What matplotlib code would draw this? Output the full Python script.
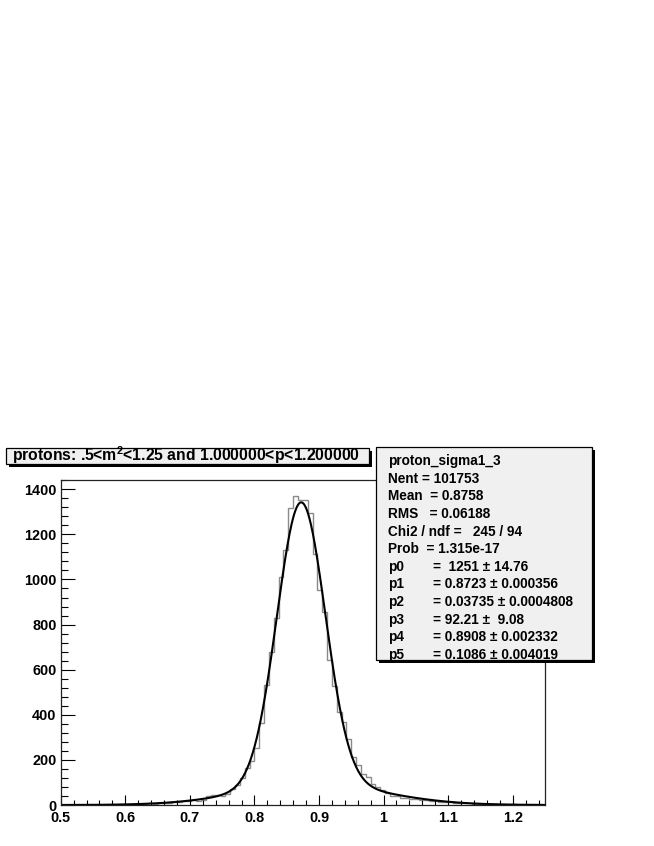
import numpy as np
import matplotlib
matplotlib.use("Agg")
import matplotlib.pyplot as plt
from matplotlib.patches import Rectangle
from matplotlib.ticker import MultipleLocator, FuncFormatter

plt.rcParams['font.family'] = ['Liberation Sans', 'DejaVu Sans']
plt.rcParams['font.weight'] = 'bold'
plt.rcParams['mathtext.fontset'] = 'custom'
plt.rcParams['mathtext.rm'] = 'Liberation Sans:bold'
plt.rcParams['mathtext.bf'] = 'Liberation Sans:bold'
plt.rcParams['mathtext.it'] = 'Liberation Sans:bold'

# Histogram: 100 bins between 0.5 and 1.25 (bin width 0.0075)
x_low, x_high = 0.5, 1.25
counts = [
    0, 0, 1, 0, 1, 0, 1, 1, 2, 1,
    2, 2, 3, 2, 4, 4, 5, 5, 7, 6,
    9, 9, 11, 12, 15, 18, 19, 22, 19, 22,
    38, 46, 46, 41, 49, 71, 90, 118, 164, 197,
    252, 362, 530, 680, 829, 1009, 1130, 1315, 1372, 1352,
    1352, 1293, 1115, 955, 855, 641, 526, 413, 368, 294,
    212, 178, 136, 126, 95, 80, 66, 52, 42, 38,
    33, 30, 27, 25, 22, 21, 18, 16, 14, 13,
    12, 10, 9, 9, 7, 6, 6, 5, 4, 4,
    3, 3, 2, 3, 1, 2, 1, 1, 0, 1,
]

# Fit shown in the stats box: gaus(p0, p1, p2) + gaus(p3, p4, p5)
fit_par = [1251, 0.8723, 0.03735, 92.21, 0.8908, 0.1086]

title = r"protons: .5<m$^{2}$<1.25 and 1.000000<p<1.200000"
stats_name = "proton_sigma1_3"
stats_lines = ["Nent = 101753", "Mean  = 0.8758", "RMS   = 0.06188",
               "Chi2 / ndf =   245 / 94", "Prob  = 1.315e-17"]
par_names = ["p0", "p1", "p2", "p3", "p4", "p5"]
par_values = ["=  1251 \u00b1 14.76", "= 0.8723 \u00b1 0.000356",
              "= 0.03735 \u00b1 0.0004808", "= 92.21 \u00b1  9.08",
              "= 0.8908 \u00b1 0.002332", "= 0.1086 \u00b1 0.004019"]

W, H = 654, 846


def fx(px):
    return px / W


def fy(py):
    return 1 - py / H


def gaus2(x, p):
    g1 = p[0] * np.exp(-0.5 * ((x - p[1]) / p[2]) ** 2)
    g2 = p[3] * np.exp(-0.5 * ((x - p[4]) / p[5]) ** 2)
    return g1 + g2


fig = plt.figure(figsize=(W / 100, H / 100), dpi=100)
fig.patch.set_facecolor('white')

ax = fig.add_axes([fx(60.7), fy(805), fx(545) - fx(60.7), fy(480) - fy(805)])

edges = np.linspace(x_low, x_high, len(counts) + 1)
ax.stairs(counts, edges, color='#8a8a8a', lw=1.0)

x_fit = np.linspace(x_low, x_high, 750)
ax.plot(x_fit, gaus2(x_fit, fit_par), color='black', lw=1.5)

ax.set_xlim(x_low, x_high)
ax.set_ylim(0, 1441)

ax.xaxis.set_major_locator(MultipleLocator(0.1))
ax.xaxis.set_minor_locator(MultipleLocator(0.02))
ax.yaxis.set_major_locator(MultipleLocator(200))
ax.yaxis.set_minor_locator(MultipleLocator(40))
ax.xaxis.set_major_formatter(FuncFormatter(lambda v, pos: f"{v:g}"))

ax.tick_params(axis='x', which='major', direction='in', length=7, width=0.8,
               labelsize=10.4, pad=4, top=False)
ax.tick_params(axis='x', which='minor', direction='in', length=3.5, width=0.8, top=False)
ax.tick_params(axis='y', which='major', direction='in', length=10, width=0.8,
               labelsize=10.4, pad=3, right=False)
ax.tick_params(axis='y', which='minor', direction='in', length=5, width=0.8, right=False)
for s in ax.spines.values():
    s.set_linewidth(0.9)
    s.set_color('#222222')

# Title box with shadow
fig.add_artist(Rectangle((fx(9), fy(467)), fx(372) - fx(9), fy(451) - fy(467),
                         transform=fig.transFigure, facecolor='black',
                         edgecolor='none', zorder=10))
fig.add_artist(Rectangle((fx(6), fy(464)), fx(369) - fx(6), fy(448) - fy(464),
                         transform=fig.transFigure, facecolor='#f0f0f0',
                         edgecolor='black', lw=0.9, zorder=11))
fig.text(fx(11.5), fy(461), title, fontsize=11.3, fontweight='bold',
         ha='left', va='baseline', zorder=12)

# Stats box with shadow
fig.add_artist(Rectangle((fx(379), fy(663)), fx(595) - fx(379), fy(450) - fy(663),
                         transform=fig.transFigure, facecolor='black',
                         edgecolor='none', zorder=10))
stats_bg = Rectangle((fx(376), fy(660)), fx(592) - fx(376), fy(447) - fy(660),
                     transform=fig.transFigure, facecolor='#f0f0f0',
                     edgecolor='none', zorder=11)
fig.add_artist(stats_bg)

row_gap = 17.64
base0 = 465
rows = [(stats_name, None)] + [(s, None) for s in stats_lines] + list(zip(par_names, par_values))
for k, (label, value) in enumerate(rows):
    yb = fy(base0 + k * row_gap)
    t = fig.text(fx(388), yb, label, fontsize=9.8, fontweight='bold',
                 ha='left', va='baseline', zorder=12)
    t.set_clip_path(stats_bg)
    if value is not None:
        t2 = fig.text(fx(433), yb, value, fontsize=9.8, fontweight='bold',
                      ha='left', va='baseline', zorder=12)
        t2.set_clip_path(stats_bg)

fig.add_artist(Rectangle((fx(376), fy(660)), fx(592) - fx(376), fy(447) - fy(660),
                         transform=fig.transFigure, facecolor='none',
                         edgecolor='black', lw=0.9, zorder=13))

fig.savefig("out.png", dpi=100)
